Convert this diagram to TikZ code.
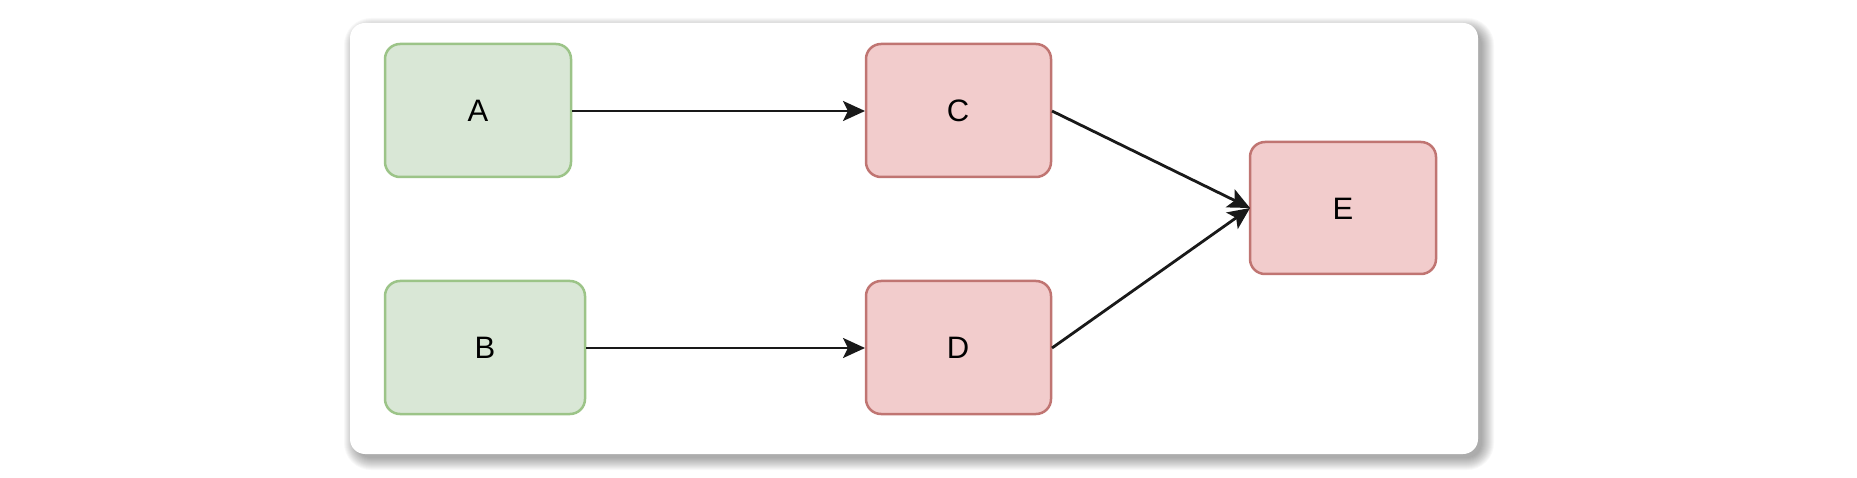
\documentclass[tikz,border=0pt]{standalone}
\usepackage{fontspec}
\setmainfont{Liberation Sans}
\usetikzlibrary{arrows.meta}
\definecolor{gfill}{HTML}{D9E7D6}
\definecolor{gline}{HTML}{9CC488}
\definecolor{rfill}{HTML}{F2CCCC}
\definecolor{rline}{HTML}{C07572}
\tikzset{
  greenbox/.style={draw=gline, fill=gfill, line width=2.5pt, rounded corners=15pt},
  redbox/.style={draw=rline, fill=rfill, line width=2.5pt, rounded corners=15pt},
  lbl/.style={font=\fontsize{31}{36}\selectfont, text=black},
  conn/.style={line width=2.8pt, draw=black!90, -{Stealth[length=22pt,width=20pt,inset=5pt]}}
}
\begin{document}
\begin{tikzpicture}[x=1pt,y=-1pt]
\useasboundingbox (0,0) rectangle (1857,478);
\fill[white] (0,0) rectangle (1857,478);
% soft shadow of card
\foreach \d in {0,1,...,12}{
  \fill[black,opacity=0.028,rounded corners=15pt+\d pt] (350-\d+6,23-\d+7) rectangle (1478+\d+4,454+\d+4);
}
% card
\fill[white,rounded corners=15pt] (350,23) rectangle (1478,454);
% boxes
\draw[greenbox] (385,44) rectangle (571,177);
\node[lbl] (A) at (478,111) {A};
\draw[greenbox] (385,281) rectangle (585,414);
\node[lbl] (B) at (485,348) {B};
\draw[redbox] (866,44) rectangle (1051,177);
\node[lbl] (C) at (958,111) {C};
\draw[redbox] (866,281) rectangle (1051,414);
\node[lbl] (D) at (958,348) {D};
\draw[redbox] (1250,142) rectangle (1436,274);
\node[lbl] (E) at (1343,209) {E};
% anchor coordinates
\coordinate (Aout) at (572,111);
\coordinate (Bout) at (586,348);
\coordinate (Cin) at (865,111);
\coordinate (Din) at (865,348);
\coordinate (Cout) at (1052,111);
\coordinate (Dout) at (1052,348);
\coordinate (Ein) at (1250,208);
\draw[conn] (Aout) -- (Cin);
\draw[conn] (Bout) -- (Din);
\draw[conn] (Cout) -- (Ein);
\draw[conn] (Dout) -- (Ein);
\end{tikzpicture}
\end{document}
